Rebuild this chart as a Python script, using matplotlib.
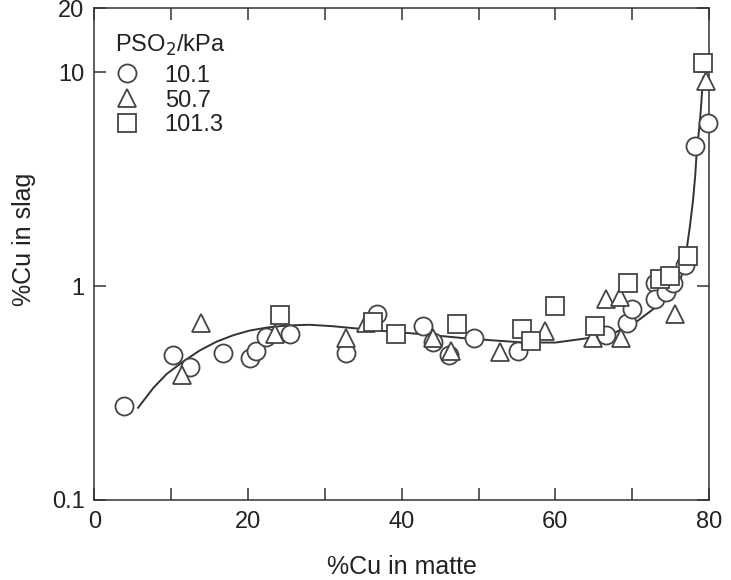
import numpy as np
import matplotlib.pyplot as plt
from matplotlib.ticker import FixedLocator, NullLocator, FixedFormatter

# data
# PSO2 = 10.1 kPa (circles)
cu_matte_101 = [3.8, 10.2, 12.5, 16.8, 20.3, 21.1, 22.3, 25.5, 32.8, 36.8, 42.8, 44.1,
                46.2, 49.4, 55.2, 66.6, 69.3, 70.0, 72.9, 73.0, 74.4, 75.3, 76.9, 78.2, 79.8]
cu_slag_101 = [0.275, 0.475, 0.42, 0.485, 0.46, 0.50, 0.58, 0.60, 0.485, 0.74, 0.65, 0.55,
               0.475, 0.575, 0.50, 0.59, 0.675, 0.78, 1.04, 0.87, 0.94, 1.03, 1.26, 4.55, 5.8]

# PSO2 = 50.7 kPa (triangles)
cu_matte_507 = [11.4, 13.9, 23.5, 32.8, 35.4, 44.1, 46.4, 52.8, 58.7, 64.9, 66.6, 68.4,
                68.6, 75.6, 79.6]
cu_slag_507 = [0.385, 0.67, 0.60, 0.57, 0.67, 0.57, 0.50, 0.49, 0.62, 0.57, 0.87, 0.89,
               0.57, 0.74, 9.1]

# PSO2 = 101.3 kPa (squares)
cu_matte_1013 = [24.2, 36.3, 39.3, 47.2, 55.7, 56.8, 60.0, 65.2, 69.5, 73.6, 74.9, 77.3, 79.2]
cu_slag_1013 = [0.73, 0.68, 0.60, 0.665, 0.63, 0.555, 0.81, 0.65, 1.03, 1.08, 1.12, 1.38, 11.1]

# fitted curve (traced)
curve_x = [5.7, 7.7, 9.4, 11.4, 13.7, 15.9, 18.1, 20.2, 22.4, 25.0, 28.0, 31.0, 34.0, 37.0,
           40.6, 44.0, 48.4, 52.8, 56.0, 60.0, 64.0, 67.5, 70.5, 72.5, 74.9, 76.4, 77.1,
           77.5, 77.9, 78.2, 78.4, 78.7, 78.9, 79.1, 79.25]
curve_y = [0.27, 0.335, 0.388, 0.44, 0.50, 0.55, 0.59, 0.62, 0.64, 0.655, 0.66, 0.65, 0.635,
           0.62, 0.605, 0.59, 0.57, 0.555, 0.545, 0.545, 0.57, 0.60, 0.68, 0.77, 0.90, 1.11,
           1.5, 1.9, 2.5, 3.3, 4.3, 5.4, 6.5, 8.2, 9.5]

labels = ["10.1", "50.7", "101.3"]

plt.rcParams['font.family'] = ['Liberation Sans', 'DejaVu Sans']

fig = plt.figure(figsize=(7.31, 5.80), dpi=100)
ax = fig.add_axes([0.129, 0.138, 0.841, 0.848])

ax.plot(curve_x, curve_y, color='#333333', lw=1.4, zorder=2)

mk = dict(ls='none', mfc='white', mec='#444444', mew=1.3, zorder=3, clip_on=False)
ax.plot(cu_matte_101, cu_slag_101, marker='o', ms=13, label=labels[0], **mk)
ax.plot(cu_matte_507, cu_slag_507, marker='^', ms=13, label=labels[1], **mk)
ax.plot(cu_matte_1013, cu_slag_1013, marker='s', ms=12.5, label=labels[2], **mk)

ax.set_yscale('log')
ax.set_xlim(0, 80)
ax.set_ylim(0.1, 20)

ax.xaxis.set_major_locator(FixedLocator([0, 20, 40, 60, 80]))
ax.xaxis.set_minor_locator(FixedLocator([10, 30, 50, 70]))
ax.yaxis.set_major_locator(FixedLocator([0.1, 1, 10, 20]))
ax.yaxis.set_major_formatter(FixedFormatter(['0.1', '1', '10', '20']))
ax.yaxis.set_minor_locator(NullLocator())

ax.tick_params(which='both', direction='in', length=8.5, width=1.1, color='#333333',
               top=True, right=True, labelsize=17, labelcolor='#222222')
ax.tick_params(axis='x', pad=8)
ax.tick_params(axis='y', pad=7)
for s in ax.spines.values():
    s.set_color('#333333')
    s.set_linewidth(1.1)

ax.set_xlabel('%Cu in matte', fontsize=18, color='#222222', labelpad=16)
ax.set_ylabel('%Cu in slag', fontsize=18, color='#222222')
ax.yaxis.set_label_coords(-0.095, 0.53)

# legend title as plain text, entries below it
ax.text(0.034, 0.925, 'PSO$_2$/kPa', transform=ax.transAxes, fontsize=17,
        color='#222222', ha='left', va='center')
leg = ax.legend(loc='upper left', bbox_to_anchor=(0.03, 0.885),
                frameon=False, fontsize=17, handletextpad=1.0, labelspacing=0.12,
                borderpad=0, borderaxespad=0, handlelength=1.2)
for t in leg.get_texts():
    t.set_color('#222222')

fig.savefig('out.png', dpi=100)
